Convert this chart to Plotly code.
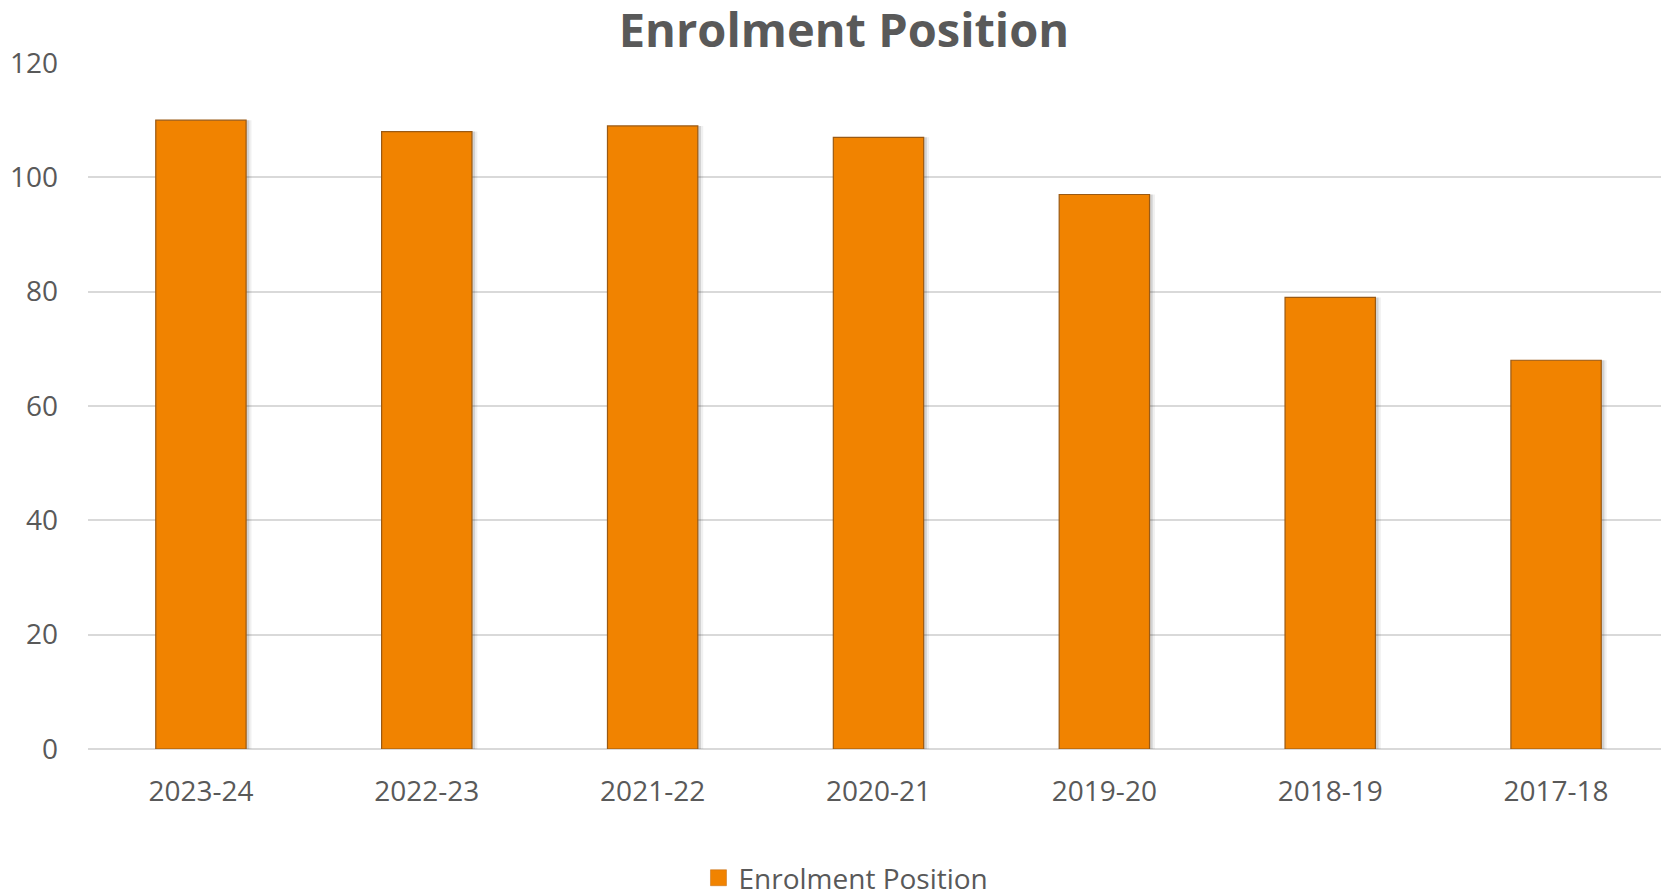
import plotly.graph_objects as go

categories = ["2023-24", "2022-23", "2021-22", "2020-21", "2019-20", "2018-19", "2017-18"]
values = [110, 108, 109, 107, 97, 79, 68]
series_name = "Enrolment Position"
y_ticks = [0, 20, 40, 60, 80, 100, 120]

FONT = "Open Sans"
TXT = "#595959"
BAR = "#F18300"

fig = go.Figure()
# soft blurred shadow (two translucent layers, slightly offset to the right)
for off, alpha in [(-0.176, 0.06), (-0.186, 0.12)]:
    fig.add_trace(go.Bar(
        x=categories, y=values, width=0.4, offset=off,
        marker=dict(color=f"rgba(0,0,0,{alpha})", line=dict(width=0)),
        showlegend=False, hoverinfo="skip",
    ))
fig.add_trace(go.Bar(
    x=categories, y=values, name=series_name, width=0.4, offset=-0.2,
    marker=dict(color=BAR, line=dict(color="#9A5A14", width=1.2)),
    showlegend=False,
))
# legend entry with a larger square swatch
fig.add_trace(go.Scatter(
    x=[None], y=[None], mode="markers", name=series_name,
    marker=dict(symbol="square", size=18, color=BAR, line=dict(color="#C06A10", width=0.5)),
    showlegend=True,
))

fig.update_layout(
    width=1661, height=884,
    barmode="overlay",
    paper_bgcolor="white", plot_bgcolor="white",
    margin=dict(l=80, r=0, t=55, b=143),
    font=dict(family=FONT, color=TXT, size=28),
    title=dict(text="<b>Enrolment Position</b>", x=0.5033, xref="container", xanchor="center",
               y=0.974, yref="container", yanchor="middle",
               font=dict(family=FONT, size=47, color=TXT)),
    showlegend=True,
    legend=dict(orientation="h", x=0.5045, xref="container", xanchor="center",
                y=0.0158, yref="container", yanchor="middle",
                font=dict(family=FONT, size=28, color=TXT), itemwidth=30,
                bgcolor="rgba(0,0,0,0)"),
    xaxis=dict(showgrid=False, showline=False, ticks="", ticklabelstandoff=23, automargin=False,
               tickfont=dict(family=FONT, size=28, color=TXT)),
    yaxis=dict(range=[0, 120], tickvals=y_ticks, showgrid=True, gridcolor="#D9D9D9", gridwidth=1.5,
               zeroline=True, zerolinecolor="#D9D9D9", zerolinewidth=1.5, showline=False, automargin=False,
               ticks="", ticklabelstandoff=29, tickfont=dict(family=FONT, size=28, color=TXT)),
)

fig.write_html("out.html")
